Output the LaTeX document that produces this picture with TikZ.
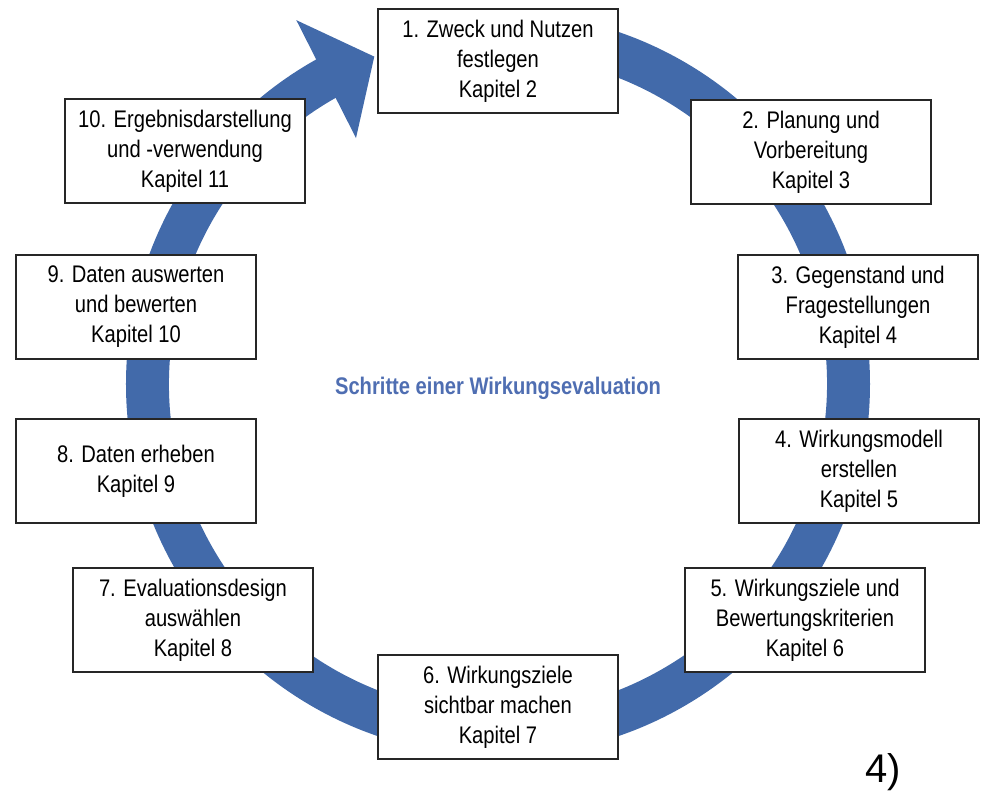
\documentclass[tikz,border=0pt]{standalone}
\usepackage{fontspec}
\setmainfont{Liberation Sans}[FakeStretch=0.84]
\newfontfamily\plainsans{Liberation Sans}
\usetikzlibrary{positioning}
\definecolor{ringblue}{RGB}{66,106,170}
\definecolor{titleblue}{RGB}{79,110,178}

\begin{document}
\begin{tikzpicture}[x=1pt,y=1pt,
    stepbox/.style={draw=black!85, line width=1.4pt, fill=white, minimum width=240pt, minimum height=104pt,
        align=center, inner sep=0pt, font=\fontsize{24}{30}\selectfont}]
    \useasboundingbox (-498,-409) rectangle (489,384);
    % ring and arrow head
    \fill[ringblue] (90:372) arc[start angle=90, end angle=-241, radius=372]
        -- (-241:329) arc[start angle=-241, end angle=90, radius=329] -- cycle;
    \fill[ringblue] (119:416) -- (110.7:350) -- (120:284) -- cycle;
    % steps
    \node[stepbox] (s1) at (0,323) {1. Zweck und Nutzen\\festlegen\\Kapitel 2};
    \node[stepbox] (s2) at (313,232) {2. Planung und\\Vorbereitung\\Kapitel 3};
    \node[stepbox] (s3) at (360,77) {3. Gegenstand und\\Fragestellungen\\Kapitel 4};
    \node[stepbox] (s4) at (361,-87) {4. Wirkungsmodell\\erstellen\\Kapitel 5};
    \node[stepbox] (s5) at (307,-236) {5. Wirkungsziele und\\Bewertungskriterien\\Kapitel 6};
    \node[stepbox] (s6) at (0,-323) {6. Wirkungsziele\\sichtbar machen\\Kapitel 7};
    \node[stepbox] (s7) at (-305,-236) {7. Evaluationsdesign\\auswählen\\Kapitel 8};
    \node[stepbox] (s8) at (-362,-87) {8. Daten erheben\\Kapitel 9};
    \node[stepbox] (s9) at (-362,77) {9. Daten auswerten\\und bewerten\\Kapitel 10};
    \node[stepbox] (s10) at (-313,233) {10. Ergebnisdarstellung\\und -verwendung\\Kapitel 11};
    % centre title and note
    \node[text=titleblue, font=\bfseries\fontsize{24}{28}\selectfont] (title) at (0,-4) {Schritte einer Wirkungsevaluation};
    \node[font=\plainsans\fontsize{40}{44}\selectfont] (note) at (385,-388) {4)};
\end{tikzpicture}
\end{document}
